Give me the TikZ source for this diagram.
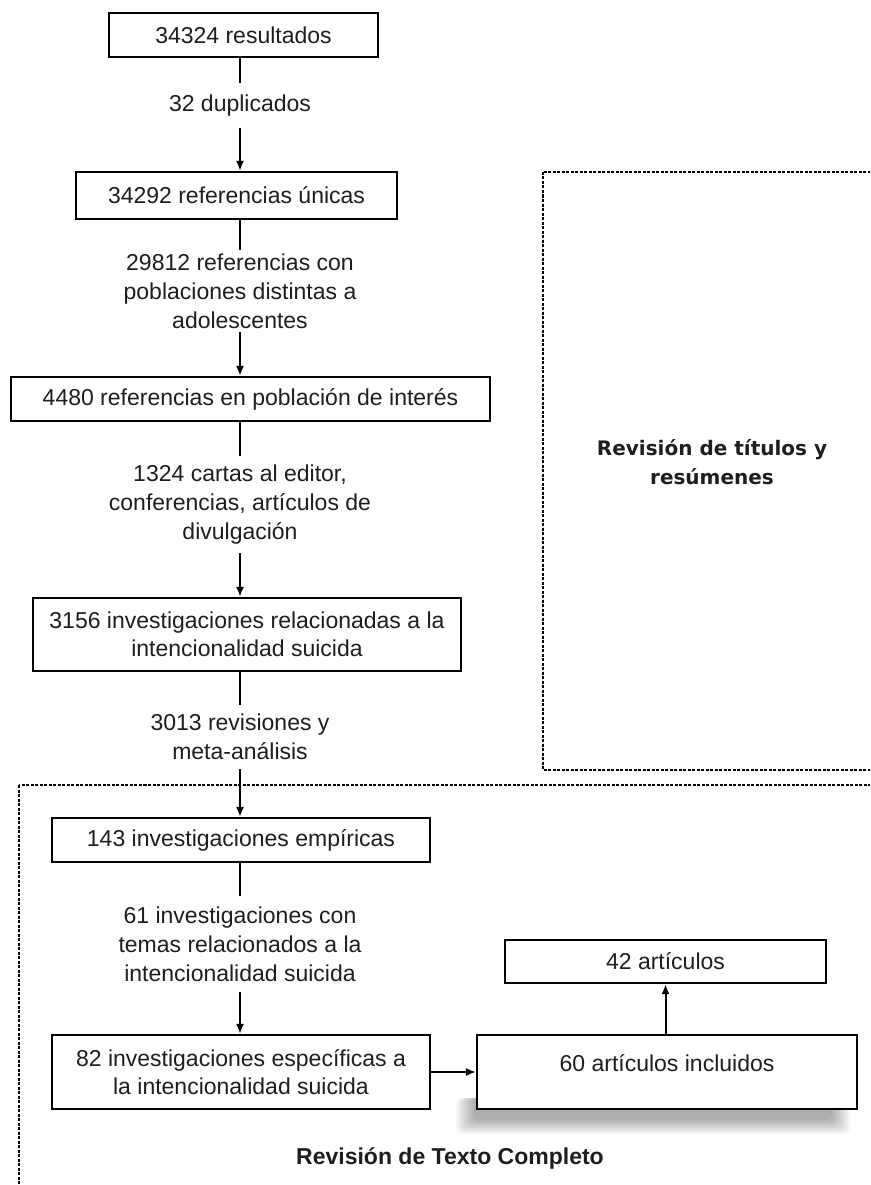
\documentclass[tikz,border=0pt]{standalone}
\usepackage{fontspec}
\setmainfont{Liberation Sans}
\newfontfamily\titfont{DejaVu Sans}
\usetikzlibrary{arrows.meta}
\definecolor{txt}{RGB}{30,30,30}
\begin{document}
\begin{tikzpicture}[x=1pt,y=-1pt,
  every node/.style={font=\fontsize{23}{28}\selectfont, text=txt},
  box/.style={draw=black, line width=2.2pt, fill=white, inner sep=0pt, align=center},
  lbl/.style={inner sep=0pt, align=center, font=\fontsize{23}{28.8}\selectfont},
  conn/.style={line width=2pt, draw=black},
  arr/.style={conn, -{Latex[length=10pt,width=8pt]}},
  dbox/.style={draw=black, line width=2pt, dash pattern=on 3pt off 1.5pt},
]
\useasboundingbox (0,0) rectangle (870,1185);
\clip (0,0) rectangle (870,1185);
\fill[white] (0,0) rectangle (870,1185);

% dashed regions
\draw[dbox] (543,172) rectangle (885,770);
\draw[dbox] (19,785) rectangle (885,1200);
\node[font=\titfont\fontsize{20}{29}\selectfont\bfseries, align=center, inner sep=0pt] (t1) at (712,462) {Revisión de títulos y\\resúmenes};
\node[font=\fontsize{23}{28}\selectfont\bfseries, inner sep=0pt] (t2) at (450,1158) {Revisión de Texto Completo};

\coordinate (ax) at (240,0);

% boxes
\node[box, minimum width=269pt, minimum height=44pt] (b1) at (243.5,35) {34324 resultados};
\node[box, minimum width=321pt, minimum height=47pt] (b2) at (236.5,195.5) {34292 referencias únicas};
\node[box, minimum width=479pt, minimum height=44pt] (b3) at (250.5,399) {4480 referencias en población de interés};
\node[box, minimum width=428pt, minimum height=73pt] (b4) at (247,634.5) {3156 investigaciones relacionadas a la\\intencionalidad suicida};
\node[box, minimum width=378pt, minimum height=44pt] (b5) at (241,840) {143 investigaciones empíricas};
\node[box, minimum width=378pt, minimum height=74pt] (b6) at (241,1072) {82 investigaciones específicas a\\la intencionalidad suicida};

% shadow of box 7
\foreach \i in {0,1,...,9}{
  \fill[black, opacity=0.035, rounded corners=6pt] ({456+2*\i},1098) rectangle ({850-2*\i},{1134-1.6*\i});
}
\node[box, minimum width=380pt, minimum height=74pt] (b7) at (667,1072) {};
\node[inner sep=0pt] (b7t) at (667,1063) {60 artículos incluidos};
\node[box, minimum width=321pt, minimum height=43pt] (b8) at (665.5,961.5) {42 artículos};

% labels
\node[lbl, minimum height=45pt] (l1) at (240,105.5) {32 duplicados};
\node[lbl, minimum height=82pt] (l2) at (240,291) {29812 referencias con\\poblaciones distintas a\\adolescentes};
\node[lbl, minimum height=97pt] (l3) at (240,504.5) {1324 cartas al editor,\\conferencias, artículos de\\divulgación};
\node[lbl, minimum height=64pt] (l4) at (240,737) {3013 revisiones y\\meta-análisis};
\node[lbl, minimum height=95pt] (l5) at (240,944) {61 investigaciones con\\temas relacionados a la\\intencionalidad suicida};

% connectors
\draw[conn] (b1.south -| ax) -- (l1.north -| ax);
\draw[arr] (l1.south -| ax) -- (b2.north -| ax);
\draw[conn] (b2.south -| ax) -- (l2.north -| ax);
\draw[arr] (l2.south -| ax) -- (b3.north -| ax);
\draw[conn] (b3.south -| ax) -- (l3.north -| ax);
\draw[arr] (l3.south -| ax) -- (b4.north -| ax);
\draw[conn] (b4.south -| ax) -- (l4.north -| ax);
\draw[arr] (l4.south -| ax) -- (b5.north -| ax);
\draw[conn] (b5.south -| ax) -- (l5.north -| ax);
\draw[arr] (l5.south -| ax) -- (b6.north -| ax);
\draw[arr] (b6.east) -- (b7.west);
\draw[arr] (b7.north -| b8.south) -- (b8.south);
\end{tikzpicture}
\end{document}
